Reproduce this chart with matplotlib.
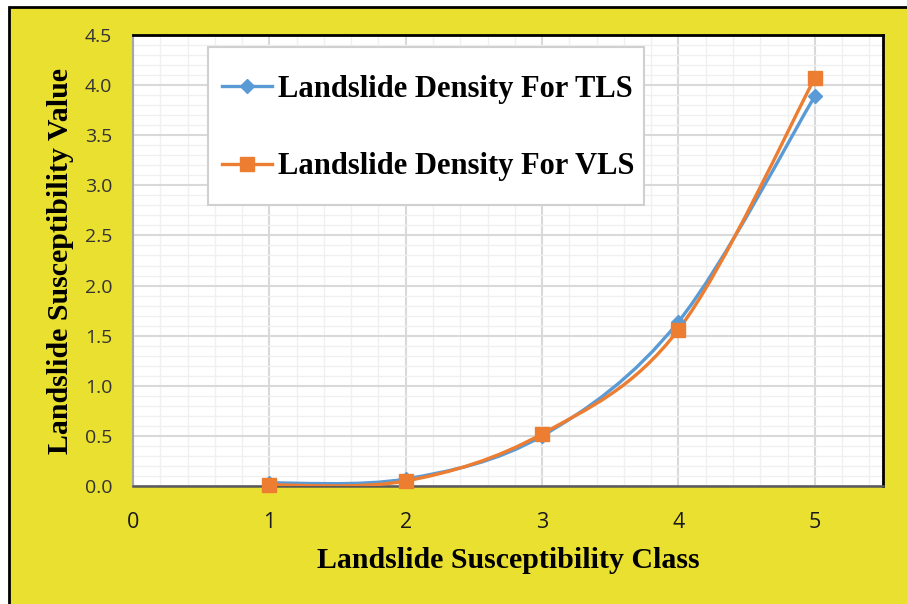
import matplotlib
matplotlib.use("Agg")
import matplotlib.pyplot as plt
from matplotlib.path import Path
from matplotlib.patches import PathPatch, Rectangle
from matplotlib.lines import Line2D
from matplotlib.ticker import MultipleLocator, FormatStrFormatter

classes = [1, 2, 3, 4, 5]
tls = [0.03, 0.07, 0.50, 1.64, 3.89]
vls = [0.01, 0.05, 0.52, 1.56, 4.07]
labels = ["Landslide Density For TLS", "Landslide Density For VLS"]
xlabel = "Landslide Susceptibility Class"
ylabel = "Landslide Susceptibility Value"

BLUE = "#5B9BD5"
ORANGE = "#ED7D31"
YELLOW = "#EAE030"

W, H = 907, 604
fig = plt.figure(figsize=(W / 100, H / 100), dpi=100)
fig.patch.set_facecolor("white")
fig.patches.append(Rectangle((9 / W, -0.05), 1.1, 1 - 7 / H + 0.05, transform=fig.transFigure,
                             facecolor=YELLOW, edgecolor="black", linewidth=2, zorder=-10))

ax = fig.add_axes([133 / W, 1 - 486 / H, 750 / W, 451 / H])
ax.set_zorder(5)
ax.set_facecolor("white")
ax.set_xlim(0, 5.5)
ax.set_ylim(0, 4.5)
ax.set_xticks(range(0, 6))
ax.xaxis.set_minor_locator(MultipleLocator(0.2))
ax.yaxis.set_major_locator(MultipleLocator(0.5))
ax.yaxis.set_minor_locator(MultipleLocator(0.1))
ax.grid(which="major", color="#D9D9D9", linewidth=1.5, zorder=0)
ax.grid(which="minor", color="#F0F0F0", linewidth=1.0, zorder=0)
ax.set_axisbelow(True)
ax.tick_params(which="both", length=0)
ax.tick_params(axis="x", pad=18.5)
ax.tick_params(axis="y", pad=15)
ax.yaxis.set_major_formatter(FormatStrFormatter("%.1f"))
ax.xaxis.set_major_formatter(FormatStrFormatter("%d"))
for lab in ax.get_xticklabels():
    lab.set_fontfamily("Open Sans")
    lab.set_fontsize(15.5)
    lab.set_color("#1a1a1a")
for lab in ax.get_yticklabels():
    lab.set_fontfamily("Open Sans")
    lab.set_fontsize(14)
    lab.set_color("#333333")

ax.spines["top"].set_color("black")
ax.spines["right"].set_color("black")
ax.spines["top"].set_linewidth(2)
ax.spines["right"].set_linewidth(2)
ax.spines["left"].set_color("#A6A6A6")
ax.spines["left"].set_linewidth(1.5)
ax.spines["bottom"].set_color("#595959")
ax.spines["bottom"].set_linewidth(1.8)


def smooth_path(xs, ys):
    pts = list(zip(xs, ys))
    n = len(pts)
    verts = [pts[0]]
    codes = [Path.MOVETO]
    for i in range(n - 1):
        p0 = pts[i - 1] if i > 0 else pts[i]
        p1 = pts[i]
        p2 = pts[i + 1]
        p3 = pts[i + 2] if i + 2 < n else pts[i + 1]
        c1 = (p1[0] + (p2[0] - p0[0]) / 6, p1[1] + (p2[1] - p0[1]) / 6)
        c2 = (p2[0] - (p3[0] - p1[0]) / 6, p2[1] - (p3[1] - p1[1]) / 6)
        verts += [c1, c2, p2]
        codes += [Path.CURVE4] * 3
    return Path(verts, codes)


for ys, color, marker, ms in [(tls, BLUE, "D", 7.5), (vls, ORANGE, "s", 9.5)]:
    patch = PathPatch(smooth_path(classes, ys), facecolor="none", edgecolor=color,
                      linewidth=2.4, zorder=3, transform=ax.transData)
    ax.add_patch(patch)
    ax.plot(classes, ys, linestyle="none", marker=marker, markersize=ms,
            color=color, zorder=4, clip_on=False)

# legend frame
ax.add_patch(Rectangle((75 / 750, (486 - 205) / 451), (644 - 208) / 750, (205 - 47) / 451,
                       transform=ax.transAxes, facecolor="white", edgecolor="#D0D0D0",
                       linewidth=1.5, zorder=4.5))

handles = [
    Line2D([], [], color=BLUE, linewidth=2.4, marker="D", markersize=7.5),
    Line2D([], [], color=ORANGE, linewidth=2.4, marker="s", markersize=9.5),
]
leg = ax.legend(handles, labels, loc="upper left",
                bbox_to_anchor=((222 - 133) / 750, (486 - 75) / 451),
                borderaxespad=0, borderpad=0, frameon=False,
                prop={"family": "Liberation Serif", "weight": "bold", "size": 22},
                handlelength=1.63, handletextpad=0.2, labelspacing=1.58)
leg.set_zorder(6)

ax.set_xlabel(xlabel, fontfamily="Liberation Serif", fontweight="bold", fontsize=21.5)
ax.set_ylabel(ylabel, fontfamily="Liberation Serif", fontweight="bold", fontsize=21.5)
ax.xaxis.label.set_verticalalignment("center")
ax.yaxis.label.set_verticalalignment("center")
ax.xaxis.set_label_coords(0.5, -(560 - 486) / 451)
ax.yaxis.set_label_coords(-(133 - 61) / 750, 0.5)

fig.savefig("out.png", dpi=100)
